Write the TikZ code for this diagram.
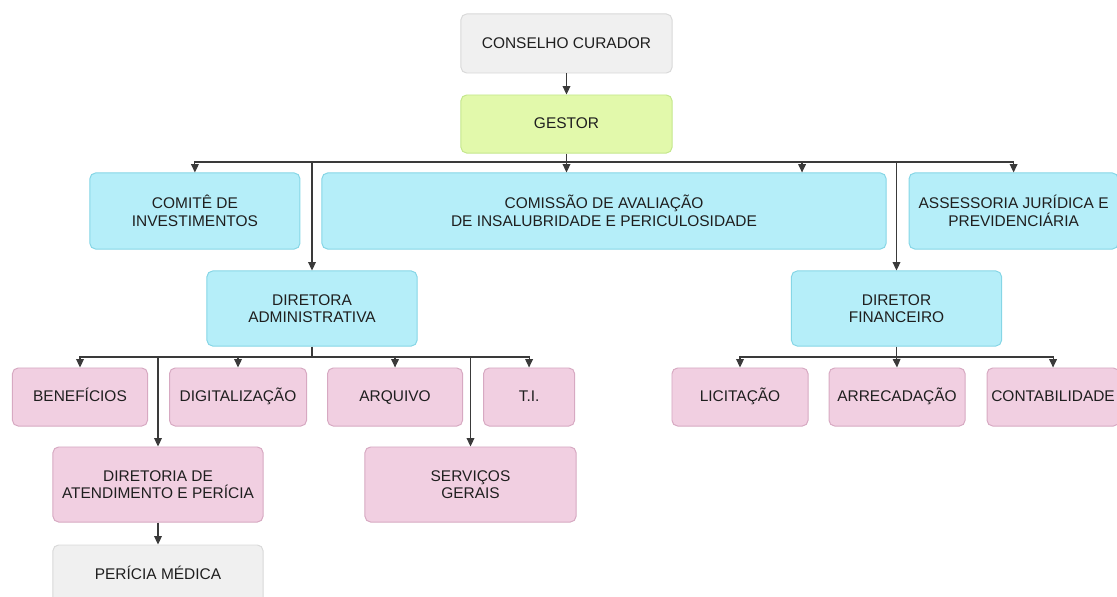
\documentclass[tikz,border=0pt]{standalone}
\usepackage{fontspec}
\setmainfont{Liberation Sans}
\usepackage{tikz}
\usetikzlibrary{positioning, arrows.meta}
\definecolor{graybox}{HTML}{F0F0F0}
\definecolor{grayline}{HTML}{D9D9D9}
\definecolor{greenbox}{HTML}{E2F9AB}
\definecolor{greenline}{HTML}{C4E78C}
\definecolor{bluebox}{HTML}{B5EEF9}
\definecolor{blueline}{HTML}{86D6E6}
\definecolor{pinkbox}{HTML}{F1CFE1}
\definecolor{pinkline}{HTML}{D7A9C2}
\definecolor{conn}{HTML}{3A3A3A}
\tikzstyle{box} = [rectangle, rounded corners=4pt, text centered, 
align=center, line width=0.7pt, text=black!88, inner sep=0pt, 
font=\fontsize{11}{12.5}\selectfont]
\tikzstyle{single} = [text height=10pt, text depth=3pt]
\tikzstyle{council} = [box, draw=grayline, fill=graybox, 
minimum width=5.275cm, minimum height=1.475cm]
\tikzstyle{manager} = [box, draw=greenline, fill=greenbox, 
minimum width=5.275cm, minimum height=1.45cm]
\tikzstyle{board} = [box, draw=blueline, fill=bluebox, 
minimum width=5.25cm, minimum height=1.9cm]
\tikzstyle{unit} = [box, draw=pinkline, fill=pinkbox, 
minimum width=3.4cm, minimum height=1.45cm]
\tikzstyle{arrow} = [draw=conn, line width=0.8pt, 
-{Triangle[length=6pt,width=5.5pt]}]
\tikzstyle{line} = [draw=conn, line width=0.8pt]

\begin{document}
\begin{tikzpicture}[x=0.025cm, y=-0.025cm]
\useasboundingbox (0,0) rectangle (1117,597);

\node (conselho) [council, single] at (566.5,43.5) {CONSELHO CURADOR};
\node (gestor) [manager, single, below=0.525cm of conselho] {GESTOR};

\node (comissao) [board, minimum width=14.1cm] at (604,211)
{COMISSÃO DE AVALIAÇÃO \\ DE INSALUBRIDADE E PERICULOSIDADE};
\node (comite) [board, left=0.525cm of comissao]
{COMITÊ DE \\ INVESTIMENTOS};
\node (assess) [board, right=0.55cm of comissao, minimum width=5.225cm]
{ASSESSORIA JURÍDICA E \\ PREVIDENCIÁRIA};

\node (adm) [board, minimum height=1.875cm] at (312,308.5)
{DIRETORA \\ ADMINISTRATIVA};
\node (fin) [board, minimum height=1.875cm] at (896.5,308.5)
{DIRETOR \\ FINANCEIRO};

\node (benef) [unit, single, minimum width=3.375cm] at (80,397)
{BENEFÍCIOS};
\node (digit) [unit, single, right=0.525cm of benef, 
minimum width=3.425cm] {DIGITALIZAÇÃO};
\node (arquivo) [unit, single, right=0.5cm of digit, 
minimum width=3.375cm] {ARQUIVO};
\node (ti) [unit, single, right=0.5cm of arquivo, 
minimum width=2.275cm] {T.I.};

\node (licit) [unit, single] at (740,397) {LICITAÇÃO};
\node (arrec) [unit, single, right=0.5cm of licit] {ARRECADAÇÃO};
\node (contab) [unit, single, right=0.525cm of arrec, 
minimum width=3.3cm] {CONTABILIDADE};

\node (diretoria) [unit, minimum width=5.25cm, minimum height=1.875cm]
at (158,484.5) {DIRETORIA DE \\ ATENDIMENTO E PERÍCIA};
\node (servicos) [unit, minimum width=5.275cm, minimum height=1.875cm]
at (470.5,484.5) {SERVIÇOS \\ GERAIS};
\node (pericia) [council, single, minimum width=5.25cm, 
minimum height=1.5cm, below=0.55cm of diretoria] {PERÍCIA MÉDICA};

\coordinate (bus1) at (566.5,162);
\coordinate (bus2) at (312,357);
\coordinate (bus3) at (896.5,357);

\draw [arrow] (conselho) -- (gestor);
\draw [arrow] (gestor.south) -- (gestor.south |- comissao.north);
\draw [arrow] (bus1) -| (comite.north);
\draw [arrow] (bus1) -| (adm.north);
\draw [arrow] (bus1) -| ([xshift=4.95cm]comissao.north);
\draw [arrow] (bus1) -| (fin.north);
\draw [arrow] (bus1) -| (assess.north);

\draw [line] (adm.south) -- (bus2);
\draw [arrow] (bus2) -| (benef.north);
\draw [arrow] (bus2) -| (diretoria.north);
\draw [arrow] (bus2) -| (digit.north);
\draw [arrow] (bus2) -| (arquivo.north);
\draw [arrow] (bus2) -| (servicos.north);
\draw [arrow] (bus2) -| (ti.north);

\draw [line] (fin.south) -- (bus3);
\draw [arrow] (bus3) -| (licit.north);
\draw [arrow] (bus3) -- (arrec.north);
\draw [arrow] (bus3) -| (contab.north);

\draw [arrow] (diretoria) -- (pericia);

\end{tikzpicture}
\end{document}
